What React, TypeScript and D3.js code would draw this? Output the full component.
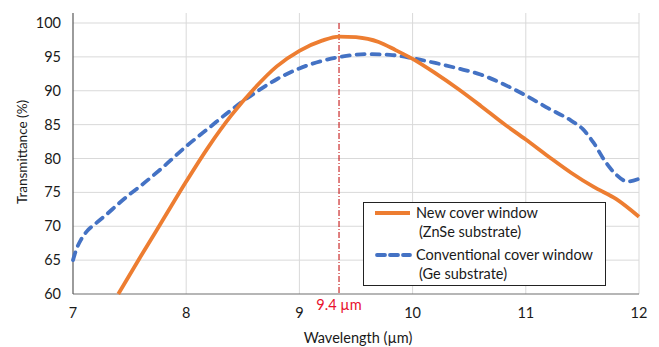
import { useEffect, useRef } from 'react';
import * as d3 from 'd3';

const width = 659;
const height = 347;

// wavelength (µm) and transmittance (%)
const newWindowX = [7.4, 7.6, 7.8, 8.0, 8.2, 8.4, 8.6, 8.8, 9.0, 9.2, 9.35, 9.5, 9.7, 9.85, 10.0, 10.2, 10.4, 10.6, 10.8, 11.0, 11.2, 11.4, 11.6, 11.8, 12.0];
const newWindowY = [60, 65.6, 71.1, 76.6, 81.8, 86.4, 90.3, 93.6, 95.9, 97.4, 98.0, 97.9, 97.2, 96.0, 94.7, 92.6, 90.3, 87.8, 85.2, 82.8, 80.3, 77.9, 75.8, 74.0, 71.4];

const convWindowX = [7.0, 7.03, 7.07, 7.12, 7.2, 7.3, 7.4, 7.5, 7.6, 7.8, 8.0, 8.2, 8.4, 8.6, 8.8, 9.0, 9.2, 9.4, 9.6, 9.8, 10.0, 10.2, 10.4, 10.6, 10.8, 11.0, 11.2, 11.4, 11.5, 11.6, 11.7, 11.8, 11.9, 12.0];
const convWindowY = [65, 66.6, 68.0, 69.2, 70.4, 71.8, 73.3, 74.7, 76.0, 78.8, 81.8, 84.5, 87.2, 89.6, 91.7, 93.3, 94.4, 95.1, 95.4, 95.3, 94.8, 94.1, 93.3, 92.4, 91.0, 89.3, 87.4, 85.6, 84.4, 82.3, 79.6, 77.6, 76.6, 77.0];

const xTicks = [7, 8, 9, 10, 11, 12];
const yTicks = [60, 65, 70, 75, 80, 85, 90, 95, 100];
const markerX = 9.35;
const markerLabel = '9.4 µm';
const legendLabels = [
  ['New cover window', '(ZnSe substrate)'],
  ['Conventional cover window', '(Ge substrate)'],
];

const font = 'Lato, "Open Sans", sans-serif';
const fs = 14.5;

const App = () => {
  const ref = useRef<SVGSVGElement>(null);

  useEffect(() => {
    const svg = d3.select(ref.current);
    svg.selectAll('*').remove();

    const x = d3.scaleLinear().domain([7, 12]).range([73, 639]);
    const y = d3.scaleLinear().domain([60, 100]).range([294, 23]);

    // grid
    svg.append('g')
      .selectAll('line')
      .data(yTicks.slice(1))
      .join('line')
      .attr('x1', x(7)).attr('x2', x(12))
      .attr('y1', (d) => y(d)).attr('y2', (d) => y(d))
      .attr('stroke', '#d9d9d9').attr('stroke-width', 1);
    svg.append('g')
      .selectAll('line')
      .data(xTicks.slice(1))
      .join('line')
      .attr('x1', (d) => x(d)).attr('x2', (d) => x(d))
      .attr('y1', y(60)).attr('y2', y(100) - 10)
      .attr('stroke', '#d9d9d9').attr('stroke-width', 1);

    // axes lines
    svg.append('line')
      .attr('x1', x(7)).attr('x2', x(12)).attr('y1', y(60)).attr('y2', y(60))
      .attr('stroke', '#6e6e6e').attr('stroke-width', 1.2);
    svg.append('line')
      .attr('x1', x(7)).attr('x2', x(7)).attr('y1', y(60)).attr('y2', y(100) - 10)
      .attr('stroke', '#595959').attr('stroke-width', 1.2);

    // tick labels
    svg.append('g')
      .selectAll('text')
      .data(yTicks)
      .join('text')
      .attr('x', 61).attr('y', (d) => y(d)).attr('dy', '0.35em')
      .attr('text-anchor', 'end')
      .attr('font-family', font).attr('font-size', fs).attr('fill', '#1a1a1a')
      .text((d) => d);
    svg.append('g')
      .selectAll('text')
      .data(xTicks)
      .join('text')
      .attr('x', (d) => x(d)).attr('y', 313).attr('dy', '0.35em')
      .attr('text-anchor', 'middle')
      .attr('font-family', font).attr('font-size', fs).attr('fill', '#1a1a1a')
      .text((d) => d);

    // axis titles
    svg.append('text')
      .attr('transform', `translate(22, 152) rotate(-90)`)
      .attr('text-anchor', 'middle').attr('dy', '0.35em')
      .attr('font-family', font).attr('font-size', 13.5).attr('fill', '#1a1a1a')
      .text('Transmittance (%)');
    svg.append('text')
      .attr('x', 358).attr('y', 338).attr('dy', '0.35em')
      .attr('text-anchor', 'middle')
      .attr('font-family', font).attr('font-size', fs).attr('fill', '#1a1a1a')
      .text('Wavelength (µm)');

    // marker line
    svg.append('line')
      .attr('x1', x(markerX)).attr('x2', x(markerX)).attr('y1', y(100)).attr('y2', y(60))
      .attr('stroke', '#c00000').attr('stroke-width', 1)
      .attr('stroke-dasharray', '6 2 1 2');
    svg.append('text')
      .attr('x', x(markerX)).attr('y', 305).attr('dy', '0.35em')
      .attr('text-anchor', 'middle')
      .attr('font-family', font).attr('font-size', fs).attr('fill', '#e8112d')
      .text(markerLabel);

    const line = d3.line<[number, number]>()
      .x((d) => x(d[0]))
      .y((d) => y(d[1]))
      .curve(d3.curveMonotoneX);

    svg.append('path')
      .datum(convWindowX.map((v, i) => [v, convWindowY[i]] as [number, number]))
      .attr('fill', 'none').attr('stroke', '#4472c4').attr('stroke-width', 3.8)
      .attr('stroke-linecap', 'round')
      .attr('stroke-dasharray', '8 7')
      .attr('d', line);
    svg.append('path')
      .datum(newWindowX.map((v, i) => [v, newWindowY[i]] as [number, number]))
      .attr('fill', 'none').attr('stroke', '#ed7d31').attr('stroke-width', 3.8)
      .attr('d', line);

    // legend
    const lg = svg.append('g');
    lg.append('rect')
      .attr('x', 363.5).attr('y', 202.5).attr('width', 242).attr('height', 83)
      .attr('fill', 'white').attr('stroke', '#222').attr('stroke-width', 1);
    const colors = ['#ed7d31', '#4472c4'];
    legendLabels.forEach((lbl, i) => {
      const ly = 213 + i * 42;
      lg.append('line')
        .attr('x1', i === 1 ? 377 : 375).attr('x2', 410).attr('y1', ly).attr('y2', ly)
        .attr('stroke', colors[i]).attr('stroke-width', 3.8)
        .attr('stroke-linecap', i === 1 ? 'round' : 'butt')
        .attr('stroke-dasharray', i === 1 ? '8 5' : null);
      lg.append('text')
        .attr('x', 416).attr('y', ly).attr('dy', '0.35em')
        .attr('font-family', font).attr('font-size', fs).attr('fill', '#1a1a1a')
        .text(lbl[0]);
      lg.append('text')
        .attr('x', 419).attr('y', ly + 19).attr('dy', '0.35em')
        .attr('font-family', font).attr('font-size', fs).attr('fill', '#1a1a1a')
        .text(lbl[1]);
    });
  }, []);

  return (
    <svg
      ref={ref}
      width={width}
      height={height}
      style={{ position: 'absolute', left: 0, top: 0, background: 'white' }}
    />
  );
};

export default App;
